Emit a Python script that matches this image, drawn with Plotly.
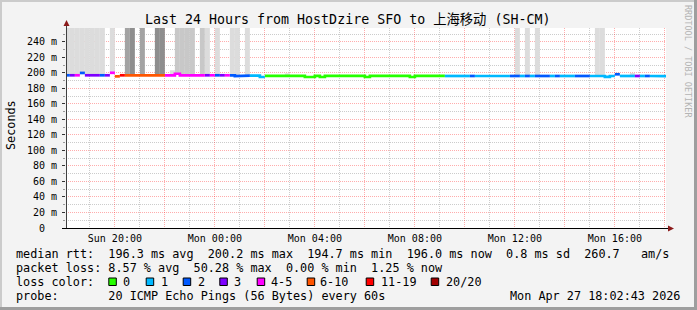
import plotly.graph_objects as go
import pandas as pd

# ---------------- data ----------------
bin_start = "2026-04-26 18:00:00"   # first 12-minute bin
bin_minutes = 12
range_start = "2026-04-26 18:02:43"
range_end = "2026-04-27 18:02:43"

median_ms = [
    197.0, 197.0, 197.0, 200.0, 197.0, 197.0, 197.0, 197.0, 197.0, 200.2,
    195.6, 197.0, 197.0, 197.0, 197.0, 197.0, 197.0, 197.0, 197.0, 197.0,
    197.0, 197.0, 199.0, 197.0, 197.0, 197.0, 197.0, 197.0, 197.0, 197.0,
    197.0, 197.0, 197.0, 197.0, 195.8, 196.5, 196.5, 196.6, 196.6, 194.8,
    196.2, 196.2, 196.2, 196.2, 196.2, 196.2, 196.2, 196.2, 194.8, 194.8,
    196.2, 194.8, 196.2, 196.2, 196.2, 196.2, 196.2, 196.2, 196.2, 196.2,
    194.8, 196.2, 196.2, 196.2, 196.2, 196.2, 196.2, 196.2, 196.2, 194.8,
    196.2, 196.2, 196.2, 196.2, 196.2, 196.2, 196.1, 196.1, 196.1, 196.1,
    196.1, 196.1, 196.1, 196.1, 196.1, 196.1, 196.1, 196.1, 196.1, 196.1,
    196.1, 196.1, 196.1, 196.1, 196.1, 196.1, 196.1, 196.1, 196.1, 196.1,
    196.1, 196.1, 196.1, 196.1, 196.1, 196.1, 196.1, 196.1, 195.0, 196.1,
    198.3, 196.1, 196.1, 196.1, 196.1, 196.1, 196.1, 196.1, 196.1, 196.1,
    196.0,
]

lost_pings = [
    2, 3, 4, 2, 3, 3, 3, 2, 3, 4,
    7, 12, 7, 7, 7, 7, 7, 7, 7, 7,
    4, 4, 4, 4, 4, 4, 4, 4, 3, 4,
    2, 3, 4, 2, 2, 2, 2, 1, 1, 1,
    0, 0, 0, 0, 0, 0, 0, 0, 0, 0,
    0, 0, 0, 0, 0, 0, 0, 0, 0, 0,
    0, 0, 0, 0, 0, 0, 0, 0, 0, 0,
    0, 0, 0, 0, 0, 0, 1, 1, 1, 1,
    1, 2, 1, 1, 1, 1, 1, 1, 1, 2,
    2, 1, 2, 1, 2, 2, 2, 1, 2, 1,
    1, 1, 2, 2, 2, 1, 1, 1, 1, 1,
    2, 1, 1, 1, 3, 1, 2, 1, 1, 1,
    1,
]

smoke_bin = [0, 1, 2, 3, 4, 5, 6, 7, 9, 12, 13, 15, 18, 19, 21, 22, 23, 24, 25,
             27, 28, 30, 33, 34, 36, 44, 90, 92, 94, 106, 107, 113]
smoke_top_ms = [260, 260, 260, 260, 260, 260, 260, 260, 260, 260, 260, 260, 260, 260,
                203.5, 260, 260, 260, 260, 260, 260, 260, 260, 260, 260, 199.5,
                260, 260, 260, 260, 260, 200.0]
smoke_density = [1, 1, 1, 1, 1, 1, 1, 1, 1, 3, 4, 3, 4, 4, 1, 2, 2, 2, 2,
                 2, 1, 1, 1, 1, 1, 1, 1, 1, 1, 1, 1, 1]

loss_labels = ["0", "1", "2", "3", "4-5", "6-10", "11-19", "20/20"]
loss_upper = [0, 1, 2, 3, 5, 10, 19, 20]
loss_colors = ["#26FF00", "#00B8FF", "#0059FF", "#7E00FF", "#FF00FF",
               "#FF5500", "#FF0000", "#A10000"]

y_tick_vals = [0, 20, 40, 60, 80, 100, 120, 140, 160, 180, 200, 220, 240]
y_tick_text = ["0\u00a0\u00a0", "20 m", "40 m", "60 m", "80 m", "100 m", "120 m",
               "140 m", "160 m", "180 m", "200 m", "220 m", "240 m"]
x_tick_times = ["2026-04-26 20:00", "2026-04-26 22:00", "2026-04-27 00:00",
                "2026-04-27 02:00", "2026-04-27 04:00", "2026-04-27 06:00",
                "2026-04-27 08:00", "2026-04-27 10:00", "2026-04-27 12:00",
                "2026-04-27 14:00", "2026-04-27 16:00", "2026-04-27 18:00"]
x_tick_text = ["Sun 20:00", "", "Mon 00:00", "", "Mon 04:00", "", "Mon 08:00", "",
               "Mon 12:00", "", "Mon 16:00", ""]

title = "Last 24 Hours from HostDzire SFO to 上海移动 (SH-CM)"
row1 = "median rtt:  196.3 ms avg  200.2 ms max  194.7 ms min  196.0 ms now  0.8 ms sd  260.7   am/s"
row2 = "packet loss: 8.57 % avg  50.28 % max  0.00 % min  1.25 % now"
row3 = "loss color:"
row4 = "probe:       20 ICMP Echo Pings (56 Bytes) every 60s"
stamp = "Mon Apr 27 18:02:43 2026"

# ---------------- geometry / style ----------------
FW, FH = 697, 310
L, T, W, H = 66, 28, 600, 200
MONO = "DejaVu Sans Mono, Noto Sans CJK SC, monospace"
shade_colors = {1: "#DCDCDC", 2: "#C8C8C8", 3: "#A3A3A3", 4: "#8E8E8E"}


def fx(x):
    return (x - L) / W


def fy(y):
    return (T + H - y) / H


def nb(s):
    return s.replace(" ", "\u00a0")


t0 = pd.Timestamp(bin_start)
step = pd.Timedelta(minutes=bin_minutes)
starts = [t0 + step * k for k in range(len(median_ms))]


def bucket(n):
    for i, up in enumerate(loss_upper):
        if n <= up:
            return i
    return len(loss_upper) - 1


fig = go.Figure()

# smoke
fig.add_trace(go.Bar(
    x=[starts[k] + step / 2 for k in smoke_bin],
    base=[median_ms[k] for k in smoke_bin],
    y=[top - median_ms[k] for k, top in zip(smoke_bin, smoke_top_ms)],
    width=[bin_minutes * 60000] * len(smoke_bin),
    marker=dict(color=[shade_colors[d] for d in smoke_density], line=dict(width=0)),
    hoverinfo="skip", showlegend=False,
))

# median line, coloured by loss
for ci, col in enumerate(loss_colors):
    xs, ys = [], []
    prev = False
    for k, (v, n) in enumerate(zip(median_ms, lost_pings)):
        if bucket(n) == ci:
            xs += [starts[k], starts[k] + step]
            ys += [v, v]
            prev = True
        elif prev:
            xs.append(None)
            ys.append(None)
            prev = False
    if xs:
        fig.add_trace(go.Scatter(x=xs, y=ys, mode="lines",
                                 line=dict(color=col, width=2.7),
                                 hoverinfo="skip", showlegend=False))

major_grid = "rgba(255,0,0,0.32)"
minor_grid = "rgba(0,0,0,0.2)"

fig.update_layout(
    width=FW, height=FH,
    margin=dict(l=L, r=FW - L - W, t=T, b=FH - T - H, pad=0),
    paper_bgcolor="#F3F3F3", plot_bgcolor="#FFFFFF",
    showlegend=False,
    xaxis=dict(
        type="date", range=[range_start, range_end],
        tickmode="array", tickvals=x_tick_times, ticktext=x_tick_text,
        tickfont=dict(family=MONO, size=10, color="#000"),
        showgrid=True, gridcolor=major_grid, griddash="1px,1px", gridwidth=1,
        ticks="", showline=False, zeroline=False, layer="above traces",
        ticklabelstandoff=3,
        minor=dict(tick0="2026-04-26 19:00", dtick=7200000, showgrid=True,
                   gridcolor=minor_grid, griddash="1px,1px", ticks=""),
    ),
    yaxis=dict(
        range=[0, 258], tickmode="array", tickvals=y_tick_vals, ticktext=y_tick_text,
        tickfont=dict(family=MONO, size=10, color="#000"),
        showgrid=True, gridcolor=major_grid, griddash="1px,1px", gridwidth=1,
        ticks="outside", ticklen=3, tickcolor="#333", showline=False,
        zeroline=False, layer="above traces", ticklabelstandoff=3,
        minor=dict(tick0=10, dtick=20, showgrid=True, gridcolor=minor_grid,
                   griddash="1px,1px", ticks="outside", ticklen=2,
                   tickcolor="#999"),
    ),
)

shapes = []
# frame
shapes.append(dict(type="rect", xref="paper", yref="paper", x0=fx(0), x1=fx(FW),
                   y0=fy(0), y1=fy(2), fillcolor="#CBCBCB", line=dict(width=0)))
shapes.append(dict(type="rect", xref="paper", yref="paper", x0=fx(0), x1=fx(2),
                   y0=fy(0), y1=fy(FH), fillcolor="#CBCBCB", line=dict(width=0)))
shapes.append(dict(type="rect", xref="paper", yref="paper", x0=fx(0), x1=fx(FW),
                   y0=fy(FH - 3), y1=fy(FH), fillcolor="#9E9E9E", line=dict(width=0)))
shapes.append(dict(type="rect", xref="paper", yref="paper", x0=fx(FW - 3), x1=fx(FW),
                   y0=fy(0), y1=fy(FH), fillcolor="#9E9E9E", line=dict(width=0)))
# axes
shapes.append(dict(type="line", xref="paper", yref="paper", x0=fx(66.5), x1=fx(66.5),
                   y0=fy(228.5), y1=fy(24), line=dict(color="#404040", width=1)))
shapes.append(dict(type="line", xref="paper", yref="paper", x0=fx(62), x1=fx(669),
                   y0=fy(228.5), y1=fy(228.5), line=dict(color="#000000", width=1)))
# arrows
shapes.append(dict(type="path", xref="paper", yref="paper",
                   path=f"M {fx(66.5)} {fy(20)} L {fx(63.5)} {fy(26)} L {fx(69.5)} {fy(26)} Z",
                   fillcolor="#8B1A1A", line=dict(width=0)))
shapes.append(dict(type="path", xref="paper", yref="paper",
                   path=f"M {fx(674)} {fy(228.5)} L {fx(668)} {fy(225.5)} L {fx(668)} {fy(231.5)} Z",
                   fillcolor="#8B1A1A", line=dict(width=0)))

# legend colour boxes
box_x = [108.3, 145.7, 182.7, 219.3, 256.7, 306.7, 365.7, 430.7]
label_x = [123.3, 161.0, 197.7, 234.3, 271.0, 320.0, 380.7, 445.7]
for bx, col in zip(box_x, loss_colors):
    shapes.append(dict(type="rect", xref="paper", yref="paper",
                       x0=fx(bx + 0.5), x1=fx(bx + 8), y0=fy(278), y1=fy(285.5),
                       fillcolor=col, line=dict(color="#000", width=1)))

ann = []


def text(x, y, s, size=11.8, anchor="left", color="#000", angle=0, family=MONO):
    ann.append(dict(x=fx(x), y=fy(y), xref="paper", yref="paper", text=nb(s),
                    showarrow=False, xanchor=anchor, yanchor="middle",
                    textangle=angle, borderpad=0,
                    font=dict(family=family, size=size, color=color)))


text(347.5, 20, title, size=13.3, anchor="center")
text(11, 125, "Seconds", size=11.8, anchor="center", angle=-90)
text(688, 61, "RRDTOOL / TOBI OETIKER", size=8.5, anchor="center", angle=90,
     color="#B4B4B4")
text(15, 254, row1)
text(15, 268, row2)
text(15, 282, row3)
for lx, lab in zip(label_x, loss_labels):
    text(lx - 1, 282, lab)
text(15, 296, row4)
text(681, 296, stamp, anchor="right")

fig.update_layout(shapes=shapes, annotations=ann)
fig.write_html("out.html", config={"displayModeBar": False})
